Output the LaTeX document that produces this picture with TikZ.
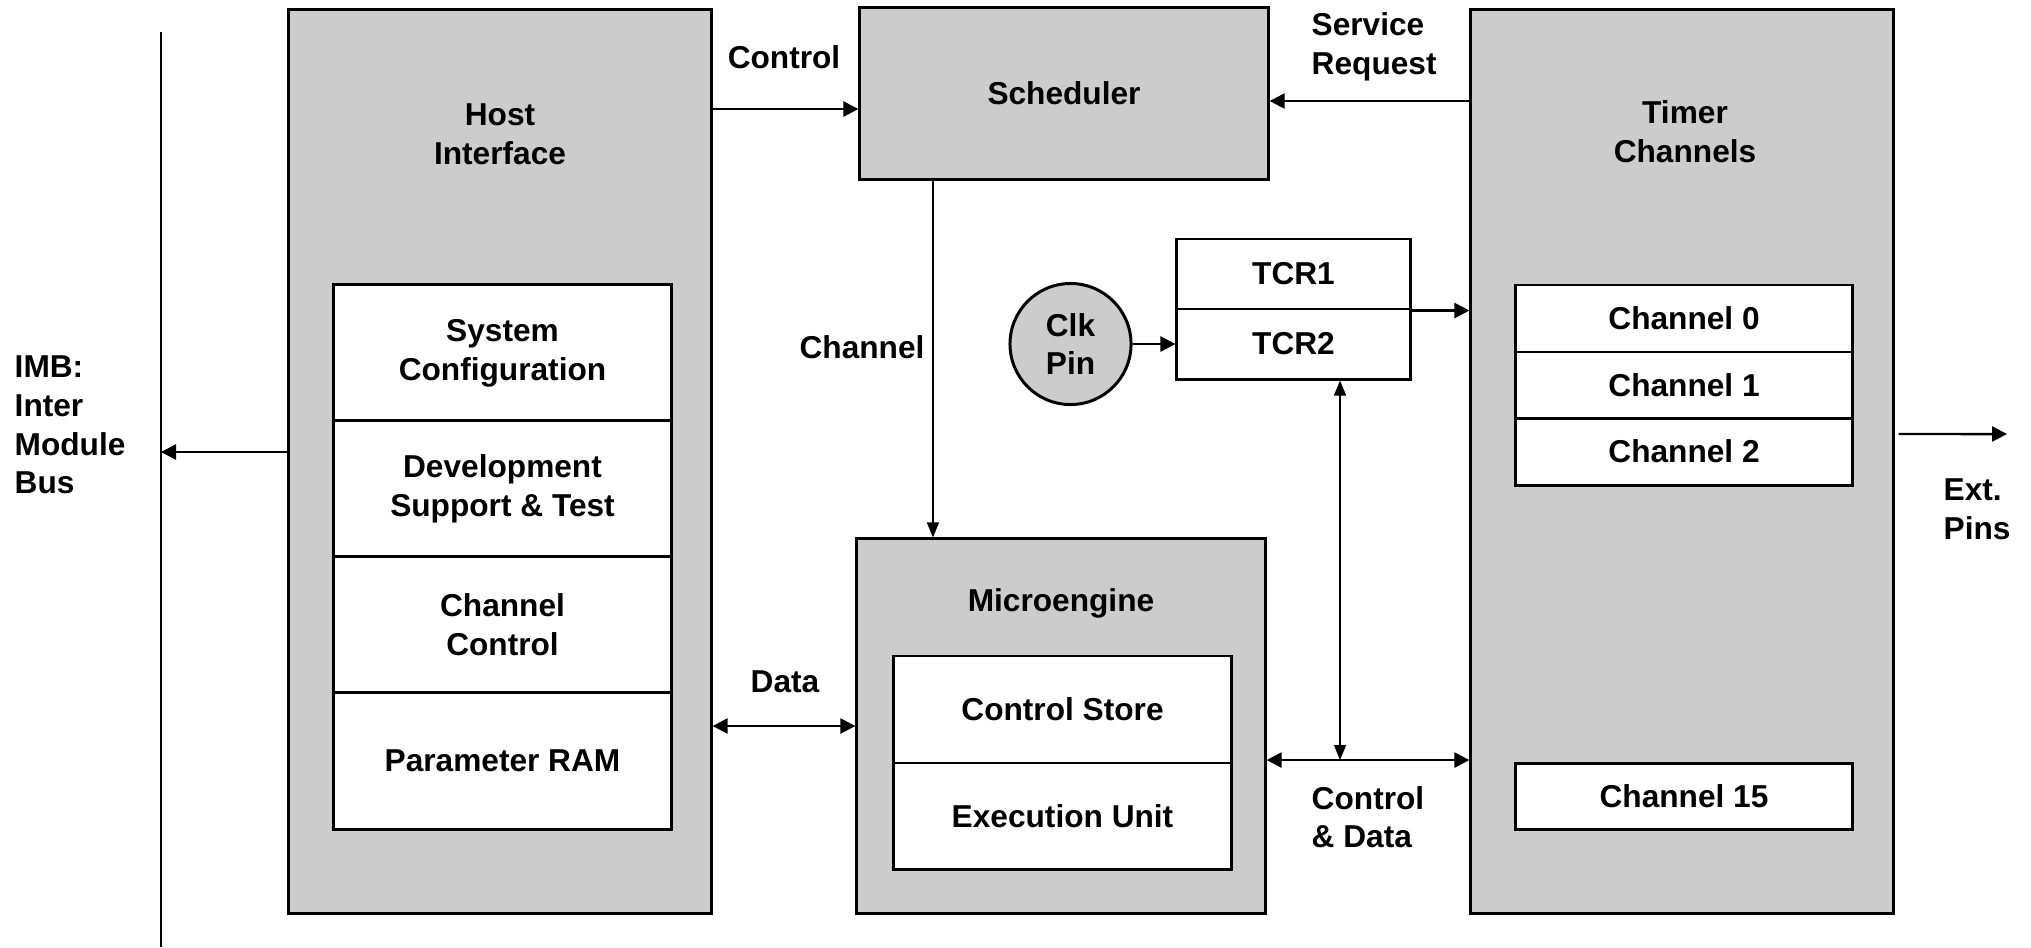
\documentclass[tikz,border=0pt]{standalone}
\usepackage{fontspec}
\setmainfont{Liberation Sans}
\usetikzlibrary{arrows.meta,calc}
\definecolor{boxgray}{RGB}{204,204,204}
\tikzset{
  block/.style={draw, fill=boxgray, line width=0.85pt, inner sep=0pt},
  cell/.style={draw, fill=white, line width=0.85pt, inner sep=0pt, align=center},
  lbl/.style={align=center, inner sep=0pt},
  arr/.style={line width=0.7pt, -{Triangle[length=0.15cm,width=0.15cm]}},
  thinarr/.style={line width=0.4pt, -{Triangle[length=0.15cm,width=0.12cm]}},
  dblarr/.style={line width=0.7pt, {Triangle[length=0.15cm,width=0.15cm]}-{Triangle[length=0.15cm,width=0.15cm]}},
  thindbl/.style={line width=0.4pt, {Triangle[length=0.15cm,width=0.12cm]}-{Triangle[length=0.15cm,width=0.12cm]}}
}

\begin{document}
\begin{tikzpicture}[x=0.01cm, y=-0.01cm, font=\fontsize{9}{11}\selectfont\bfseries]
\useasboundingbox (0,0) rectangle (2031,947);

%bus
\coordinate (bustop) at (161,32);
\coordinate (busbot) at (161,947);
\draw[line width=0.4pt] (bustop)--(busbot);
\node[lbl, anchor = west, align=left] (imblbl) at (14,425) {IMB:\\Inter\\Module\\Bus};

%host interface
\node[block, minimum width=4.22cm, minimum height=9.03cm] (host) at (500,461.5) {};
\node[lbl] (hostlbl) at (500,134) {Host\\Interface};
\node[cell, minimum width=3.37cm, minimum height=1.36cm] (syscfg) at (502.5,353) {System\\Configuration};
\node[cell, minimum width=3.37cm, minimum height=1.36cm] (devsup) at (502.5,489) {Development\\Support \& Test};
\node[cell, minimum width=3.37cm, minimum height=1.36cm] (chctrl) at (502.5,625) {Channel\\Control};
\node[cell, minimum width=3.37cm, minimum height=1.36cm] (pram) at (502.5,761) {Parameter RAM};

%scheduler
\node[block, minimum width=4.08cm, minimum height=1.71cm] (sched) at (1064,93.5) {Scheduler};

%microengine
\node[block, minimum width=4.08cm, minimum height=3.74cm] (micro) at (1061,726) {};
\node[lbl] (microlbl) at (1061,603) {Microengine};
\node[cell, minimum width=3.37cm, minimum height=1.07cm] (cstore) at (1062.5,709.5) {Control Store};
\node[cell, minimum width=3.37cm, minimum height=1.06cm] (exec) at (1062.5,816) {Execution Unit};

%timer channels
\node[block, minimum width=4.22cm, minimum height=9.03cm] (timer) at (1682,461.5) {};
\node[lbl] (timerlbl) at (1685,132) {Timer\\Channels};
\node[cell, minimum width=3.36cm, minimum height=0.67cm] (ch0) at (1684,318.5) {Channel 0};
\node[cell, minimum width=3.36cm, minimum height=0.66cm] (ch1) at (1684,385) {Channel 1};
\node[cell, minimum width=3.36cm, minimum height=0.67cm] (ch2) at (1684,451.5) {Channel 2};
\node[cell, minimum width=3.36cm, minimum height=0.66cm] (ch15) at (1684,796) {Channel 15};

%counters
\node[cell, minimum width=2.33cm, minimum height=0.70cm] (tcr1) at (1293.5,274) {TCR1};
\node[cell, minimum width=2.33cm, minimum height=0.70cm] (tcr2) at (1293.5,344) {TCR2};
\node[block, circle, minimum size=1.21cm, align=center] (clk) at (1070.5,344) {Clk\\Pin};

%labels
\node[lbl] (ctrllbl) at (784,57) {Control};
\node[lbl, anchor = west, align=left] (srqlbl) at (1311,47) {Service\\Request};
\node[lbl] (chlbl) at (862,347) {Channel};
\node[lbl] (datalbl) at (785,682) {Data};
\node[lbl, anchor = west, align=left] (cdlbl) at (1311,817) {Control\\\& Data};
\node[lbl, anchor = west, align=left] (extlbl) at (1943,509) {Ext.\\Pins};

%connectors
\coordinate (imb) at ([yshift=0.095cm]host.west);
\draw[arr] (imb) -- (imb -| bustop);
\coordinate (ctrlin) at ([yshift=-0.155cm]sched.west);
\draw[arr] (ctrlin -| host.east) -- (ctrlin);
\coordinate (srq) at ([yshift=-0.075cm]sched.east);
\draw[arr] (srq -| timer.west) -- (srq);
\coordinate (chtop) at ([xshift=-1.31cm]sched.south);
\draw[thinarr] (chtop) -- (chtop |- micro.north);
\draw[dblarr] (micro.west -| host.east) -- (micro.west);
\coordinate (cdl) at ([yshift=-0.34cm]micro.east);
\draw[dblarr] (cdl) -- (cdl -| timer.west);
\coordinate (tcrb) at ([xshift=0.465cm]tcr2.south);
\draw[thindbl] (tcrb) -- (tcrb |- cdl);
\draw[arr] (clk.east) -- (clk.east -| tcr2.west);
\draw[arr] (tcr1.south east) -- (tcr1.south east -| timer.west);
\coordinate (extp) at ([yshift=0.275cm,xshift=0.04cm]timer.east);
\coordinate (extend) at (2007,434);
\draw[arr] (extp) -- (extend);
\end{tikzpicture}
\end{document}
